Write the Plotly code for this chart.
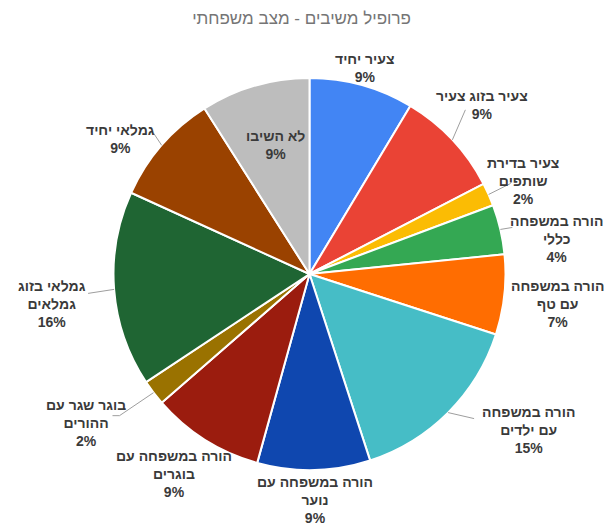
import math
import plotly.graph_objects as go

# ---- data ----
categories = ["צעיר יחיד", "צעיר בזוג צעיר", "צעיר בדירת שותפים", "הורה במשפחה כללי",
              "הורה במשפחה עם טף", "הורה במשפחה עם ילדים", "הורה במשפחה עם נוער",
              "הורה במשפחה עם בוגרים", "בוגר שגר עם ההורים", "גמלאי בזוג גמלאים",
              "גמלאי יחיד", "לא השיבו"]
values = [8.6, 8.8, 1.9, 4.1, 6.6, 15.0, 9.3, 9.3, 2.1, 16.1, 9.2, 9.0]
wrapped_labels = ["צעיר יחיד", "צעיר בזוג צעיר", "צעיר בדירת<br>שותפים", "הורה במשפחה<br>כללי",
                  "הורה במשפחה<br>עם טף", "הורה במשפחה<br>עם ילדים", "הורה במשפחה עם<br>נוער",
                  "הורה במשפחה עם<br>בוגרים", "בוגר שגר עם<br>ההורים", "גמלאי בזוג<br>גמלאים",
                  "גמלאי יחיד", "לא השיבו"]
title_text = "פרופיל משיבים - מצב משפחתי"

# ---- style / layout ----
colors = ["#4285F4", "#EA4335", "#FBBC04", "#34A853", "#FF6D01", "#46BDC6",
          "#0F47AF", "#9B1C0E", "#9A7200", "#1F6533", "#9A4200", "#BDBDBD"]
W, H = 612, 530
CX, CY, R = 309.5, 274.0, 196.0
# label center offset from slice-edge midpoint (px), leader end offset (px) or None
label_offsets = [(3, -17), (30, -35), (34, -13), (56, 10), (53, 9), (80, 17),
                 (1, 30), (-31, 34), (-68, 30), (-62, 15), (-41, -6), (0, -12)]
leader_paths = [None, [(13, -30)], [(22, -11)], [(12, -2)], None, [(26, 6)],
                None, None, [(-34, 23), (-41, 23)], [(-26, 4)], [(-8, -12)], None]
inside = [False] * 11 + [True]
LABEL_FONT = dict(family="Liberation Sans, Arial, sans-serif", size=14, color="#3a3a3a", weight="bold")

fig = go.Figure(go.Pie(
    labels=categories, values=values, sort=False, direction="clockwise", rotation=0,
    marker=dict(colors=colors, line=dict(color="white", width=2)),
    textinfo="none", hoverinfo="label+percent", showlegend=False,
    domain=dict(x=[(CX - R) / W, (CX + R) / W], y=[(H - CY - R) / H, (H - CY + R) / H]),
))

total = sum(values)
cum = 0.0
shapes, annotations = [], []
def to_paper(px, py):
    return px / W, 1 - py / H

for i, v in enumerate(values):
    mid = (cum + v / 2) / total * 2 * math.pi
    cum += v
    pct = round(v / total * 100)
    if inside[i]:
        ex = CX + R * 0.62 * math.sin(mid)
        ey = CY - R * 0.62 * math.cos(mid)
    else:
        ex = CX + R * math.sin(mid)
        ey = CY - R * math.cos(mid)
    lx, ly = ex + label_offsets[i][0], ey + label_offsets[i][1]
    x, y = to_paper(lx, ly)
    annotations.append(dict(
        x=x, y=y, xref="paper", yref="paper", showarrow=False,
        text=f"{wrapped_labels[i]}<br>{pct}%", align="center",
        xanchor="center", yanchor="middle", font=LABEL_FONT,
    ))
    if leader_paths[i]:
        pts = [(ex, ey)] + [(ex + dx, ey + dy) for dx, dy in leader_paths[i]]
        for (ax, ay), (bx, by) in zip(pts[:-1], pts[1:]):
            x0, y0 = to_paper(ax, ay)
            x1, y1 = to_paper(bx, by)
            shapes.append(dict(type="line", xref="paper", yref="paper",
                               x0=x0, y0=y0, x1=x1, y1=y1,
                               line=dict(color="#9e9e9e", width=1)))

fig.update_layout(
    width=W, height=H, margin=dict(l=0, r=0, t=0, b=0),
    paper_bgcolor="white", plot_bgcolor="white",
    title=dict(text=title_text, x=301.5 / W, xanchor="center", y=1 - 18 / H, yanchor="middle",
               yref="container", xref="container",
               font=dict(family="Liberation Sans, Arial, sans-serif", size=17, color="#757575")),
    shapes=shapes, annotations=annotations,
)
fig.write_html("out.html")
